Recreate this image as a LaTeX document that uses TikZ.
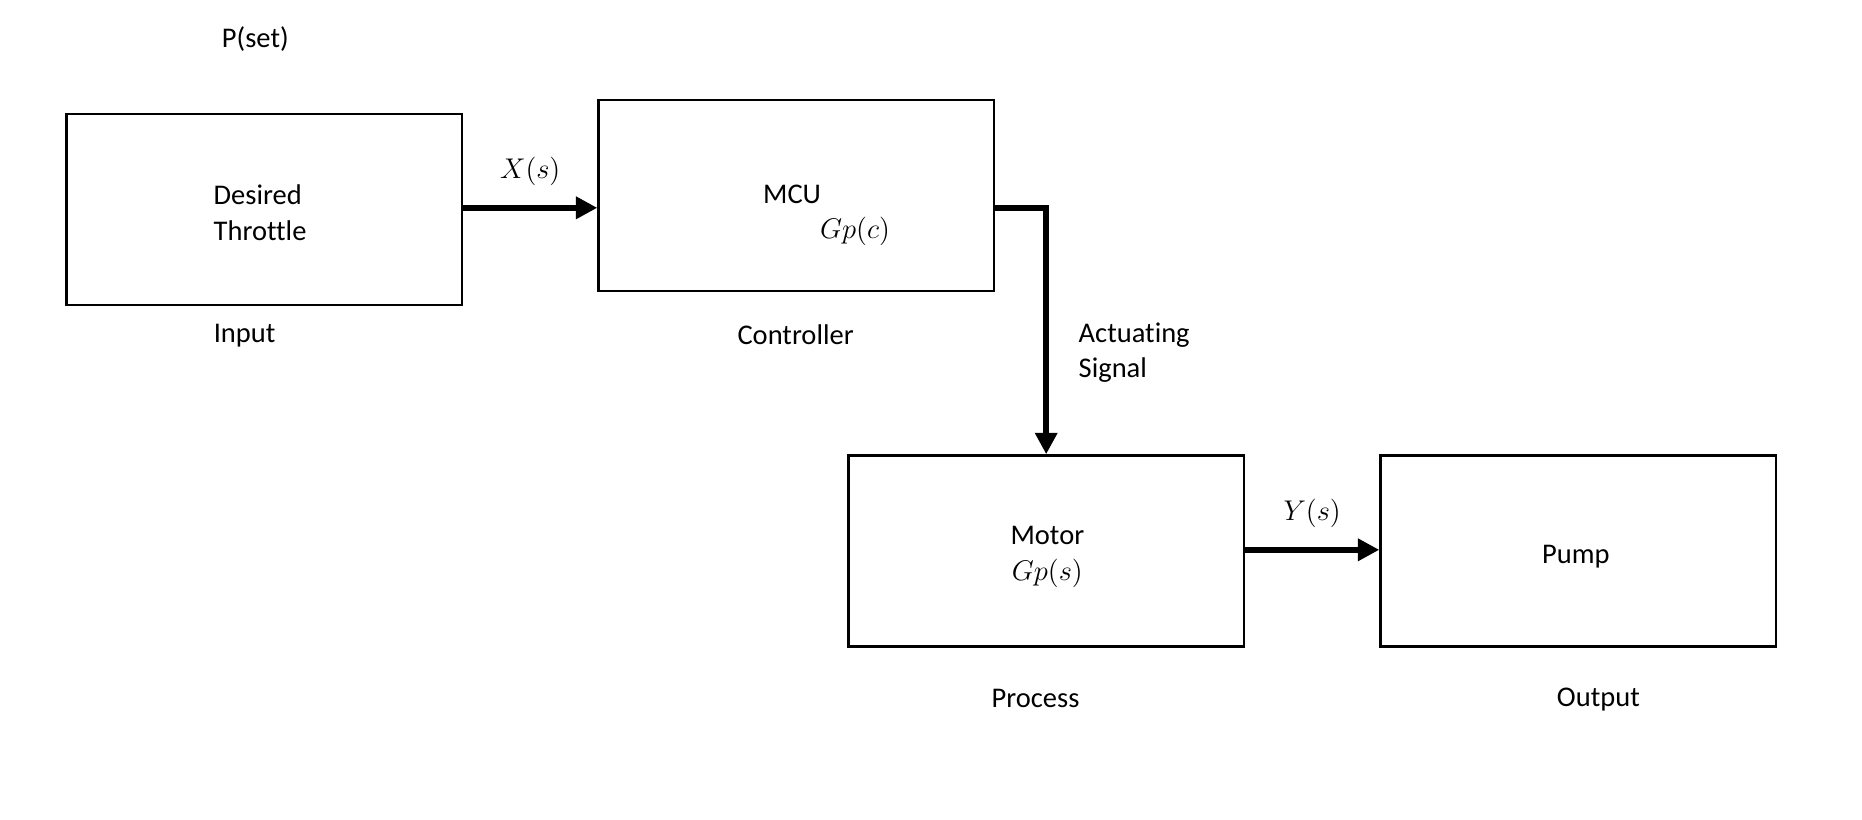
\documentclass[tikz,border=0pt]{standalone}
\usepackage{fontspec}
\setmainfont[Ligatures={NoCommon}]{Carlito}
\usetikzlibrary{arrows.meta}
\begin{document}
\begin{tikzpicture}[x=0.5pt,y=-0.5pt,
  font=\fontsize{12pt}{15pt}\selectfont,
  blockbox/.style={draw,line width=1pt,minimum width=166.5pt,minimum height=80.5pt,inner sep=0pt,align=center},
  lbl/.style={inner sep=0pt,align=left},
  sig/.style={line width=2.6pt,-{Triangle[length=9pt,width=9pt]}}]
\useasboundingbox (0,0) rectangle (1568,690.5);
\node[lbl] (pset) at (215,33) {P(set)};
\node[blockbox] (desired) at (222.5,176.5) {};
\node[lbl] (desiredt) at (219,179) {Desired\\Throttle};
\node[lbl] (input) at (206,283) {Input};
\node[blockbox] (mcu) at (670.5,164.5) {};
\node[lbl] (mcut) at (667,164) {MCU};
\node[lbl] (gpc) at (720,195) {$Gp(c)$};
\node[lbl] (ctrl) at (670,282) {Controller};
\node[blockbox] (motor) at (881,464) {};
\node[lbl,align=center] (motort) at (882,469) {Motor\\$Gp(s)$};
\node[lbl] (proc) at (872,588) {Process};
\node[blockbox] (pump) at (1329,464) {};
\node[lbl] (pumpt) at (1327,469) {Pump};
\node[lbl] (out) at (1346,589) {Output};
\draw[sig] (desired.east |- 0,175) -- (mcu.west |- 0,175) node[midway,above=8pt,inner sep=0pt] (xs) {$X(s)$};
\draw[sig] (mcu.east |- 0,175) -| (motor.north) ;
\node[lbl,anchor=west] (act) at (908,297) {Actuating\\Signal};
\draw[sig] (motor.east |- 0,463) -- (pump.west |- 0,463) node[midway,above=8pt,inner sep=0pt] (ys) {$Y(s)$};
\end{tikzpicture}
\end{document}
